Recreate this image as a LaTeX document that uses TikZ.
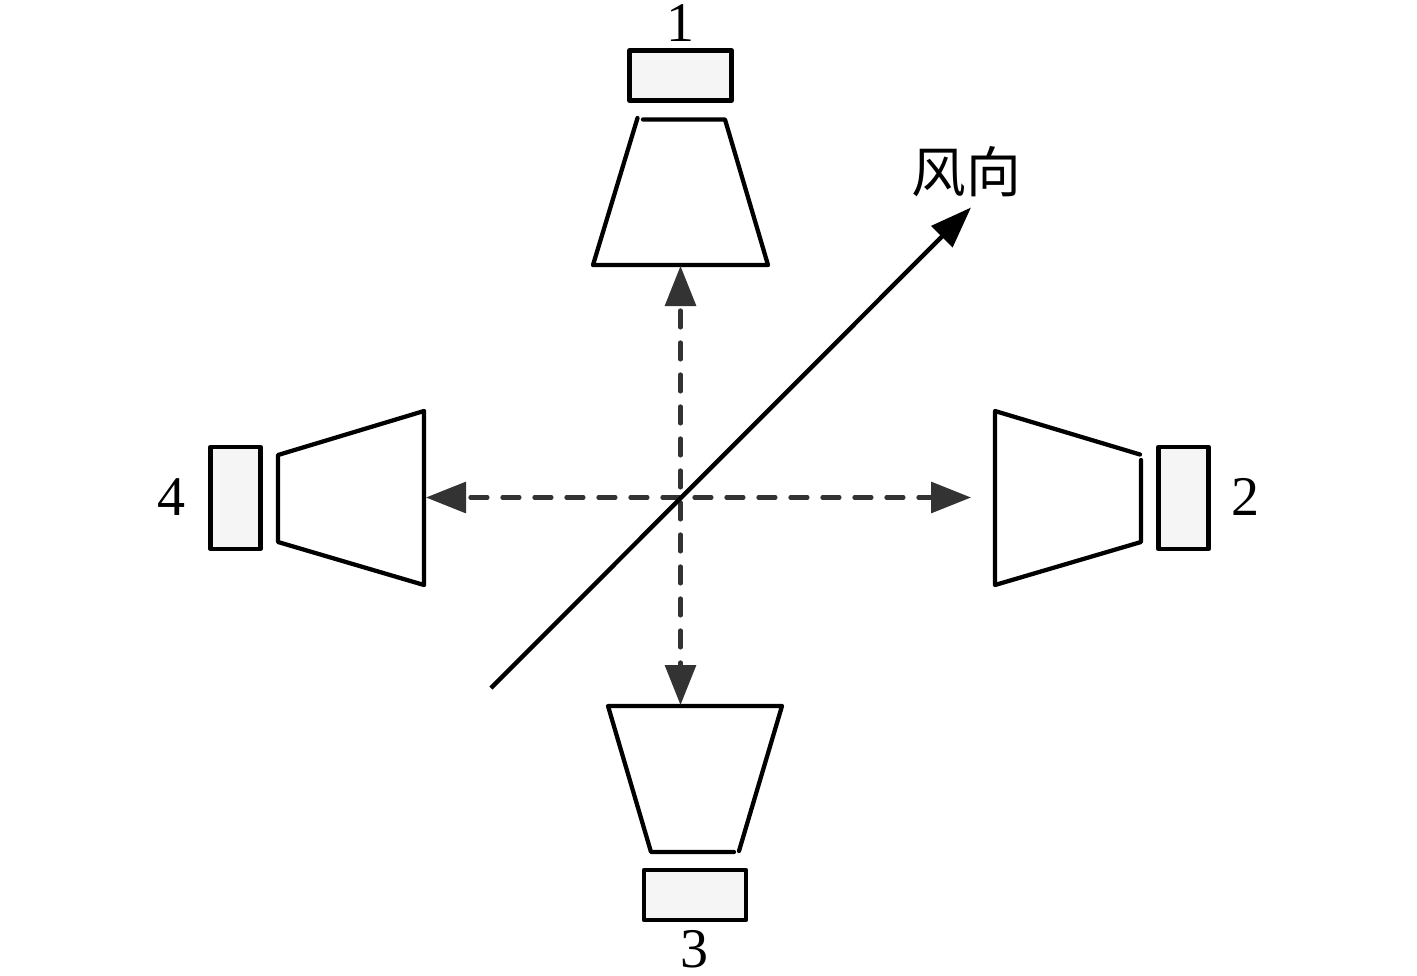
\documentclass[tikz,border=0pt]{standalone}
\usepackage{fontspec}
\setmainfont{Liberation Serif}
\newfontfamily\cjk{Noto Sans CJK SC}
\usetikzlibrary{arrows.meta}
\tikzset{
  x=0.75pt,y=-0.75pt,
  sensor/.style={draw=black,fill=black!4,line width=3.2pt,inner sep=0pt,outer sep=0pt,line join=round,minimum width=#1},
  horn/.style={draw=black,line width=3.2pt,line join=round,line cap=round},
  lab/.style={inner sep=0pt,outer sep=0pt,font=\fontsize{42}{42}\selectfont},
  beam/.style={draw=black!80,line width=3.1pt,line cap=round,dash pattern=on 12.75pt off 11.25pt,dash phase=19.9pt,
    {Triangle[length=30pt,width=23pt]}-{Triangle[length=30pt,width=23pt]}},
  wind/.style={draw=black,line width=3.3pt,-{Triangle[length=31pt,width=22pt]}}
}
\begin{document}
\begin{tikzpicture}
\useasboundingbox (0,0) rectangle (1417,975);
% sensors
\node[sensor=76.5pt,minimum height=37.5pt] (s1) at (680.5,75.5) {};
\node[sensor=37.5pt,minimum height=76.5pt] (s2) at (1183.5,498) {};
\node[sensor=76.5pt,minimum height=37.5pt] (s3) at (695,895) {};
\node[sensor=37.5pt,minimum height=76.5pt] (s4) at (235.5,498) {};
% horns
\draw[horn] (643,119.5) -- (725,119.5) -- (768,265) -- (593,265) -- (637.5,118);
\draw[horn] (1140,454.5) -- (995,411) -- (995,585) -- (1141,542) -- (1141,460);
\draw[horn] (734,852) -- (651,852) -- (608,706) -- (782,706) -- (739,851);
\draw[horn] (278,455) -- (424,411) -- (424,585) -- (278,542) -- cycle;
% connector ends
\coordinate (h1) at (680.5,266);
\coordinate (h3) at (680.5,705);
\coordinate (h4) at (426,497.5);
\coordinate (h2) at (971,497.5);
\coordinate (w0) at (491,688);
\coordinate (w1) at (971,207.5);
\draw[beam] (h4) -- (h2);
\draw[beam] (h1) -- (h3);
\draw[wind] (w0) -- (w1);
% labels
\node[lab] (n1) at (680,23) {1};
\node[lab] (n2) at (1245,497) {2};
\node[lab] (n3) at (694,949.5) {3};
\node[lab] (n4) at (171,497) {4};
\node[inner sep=0pt,outer sep=0pt,font=\cjk\fontsize{41}{41}\selectfont] (n5) at (966,172) {风向};
\end{tikzpicture}
\end{document}
